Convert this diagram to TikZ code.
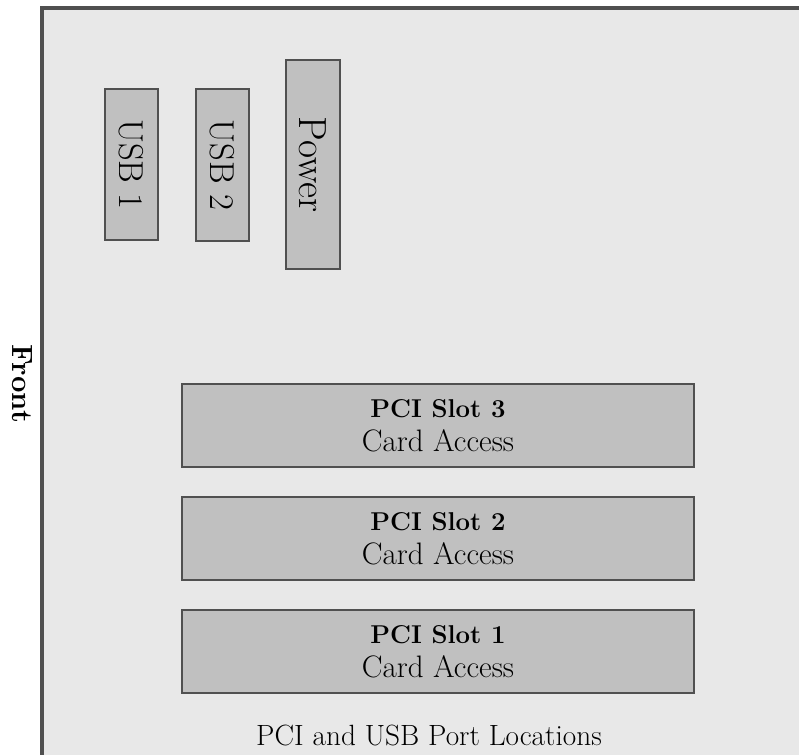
\documentclass[tikz,border=0pt]{standalone}
\usepackage{fontspec}
\usepackage{tikz}
\usetikzlibrary{positioning}
\definecolor{panelgrey}{RGB}{232,232,232}
\definecolor{slotgrey}{RGB}{192,192,192}
\definecolor{edgegrey}{RGB}{80,80,80}

\begin{document}
\begin{tikzpicture}[x=0.03cm, y=-0.03cm,
    slot/.style={rectangle, draw=edgegrey, line width=1.8pt, fill=slotgrey,
                 inner sep=0pt, align=center, font=\fontsize{26.5}{29}\selectfont},
    port/.style={slot, rotate=-90, minimum height=1.59cm, font=\fontsize{29.5}{31}\selectfont},
    lab/.style={inner sep=0pt, font=\fontsize{25}{27}\selectfont}]
\useasboundingbox (0,0) rectangle (799,755);
% case panel
\fill[panelgrey] (42,8) rectangle (840,800);
\draw[edgegrey, line width=2.8pt] (42,800) -- (42,8) -- (840,8);
% ports
\node[port, minimum width=4.53cm] (usb1) at (131.5,164.5) {USB 1};
\node[port, minimum width=4.56cm] (usb2) at (222.5,165) {USB 2};
\node[port, minimum width=6.27cm, minimum height=1.62cm,
      font=\fontsize{33.5}{35}\selectfont] (power) at (313,164.5) {Power};
% card slots
\node[slot, minimum width=15.36cm, minimum height=2.49cm] (pci3) at (438,425.5)
    {{\fontsize{22}{29}\selectfont\bfseries PCI Slot 3}\\Card Access};
\node[slot, minimum width=15.36cm, minimum height=2.49cm] (pci2) at (438,538.5)
    {{\fontsize{22}{29}\selectfont\bfseries PCI Slot 2}\\Card Access};
\node[slot, minimum width=15.36cm, minimum height=2.49cm] (pci1) at (438,651.5)
    {{\fontsize{22}{29}\selectfont\bfseries PCI Slot 1}\\Card Access};
\node[lab, font=\fontsize{25}{27}\selectfont\bfseries, rotate=-90] (front) at (22,384) {Front};
\node[lab] (title) at (429,735) {PCI and USB Port Locations};
\end{tikzpicture}
\end{document}
